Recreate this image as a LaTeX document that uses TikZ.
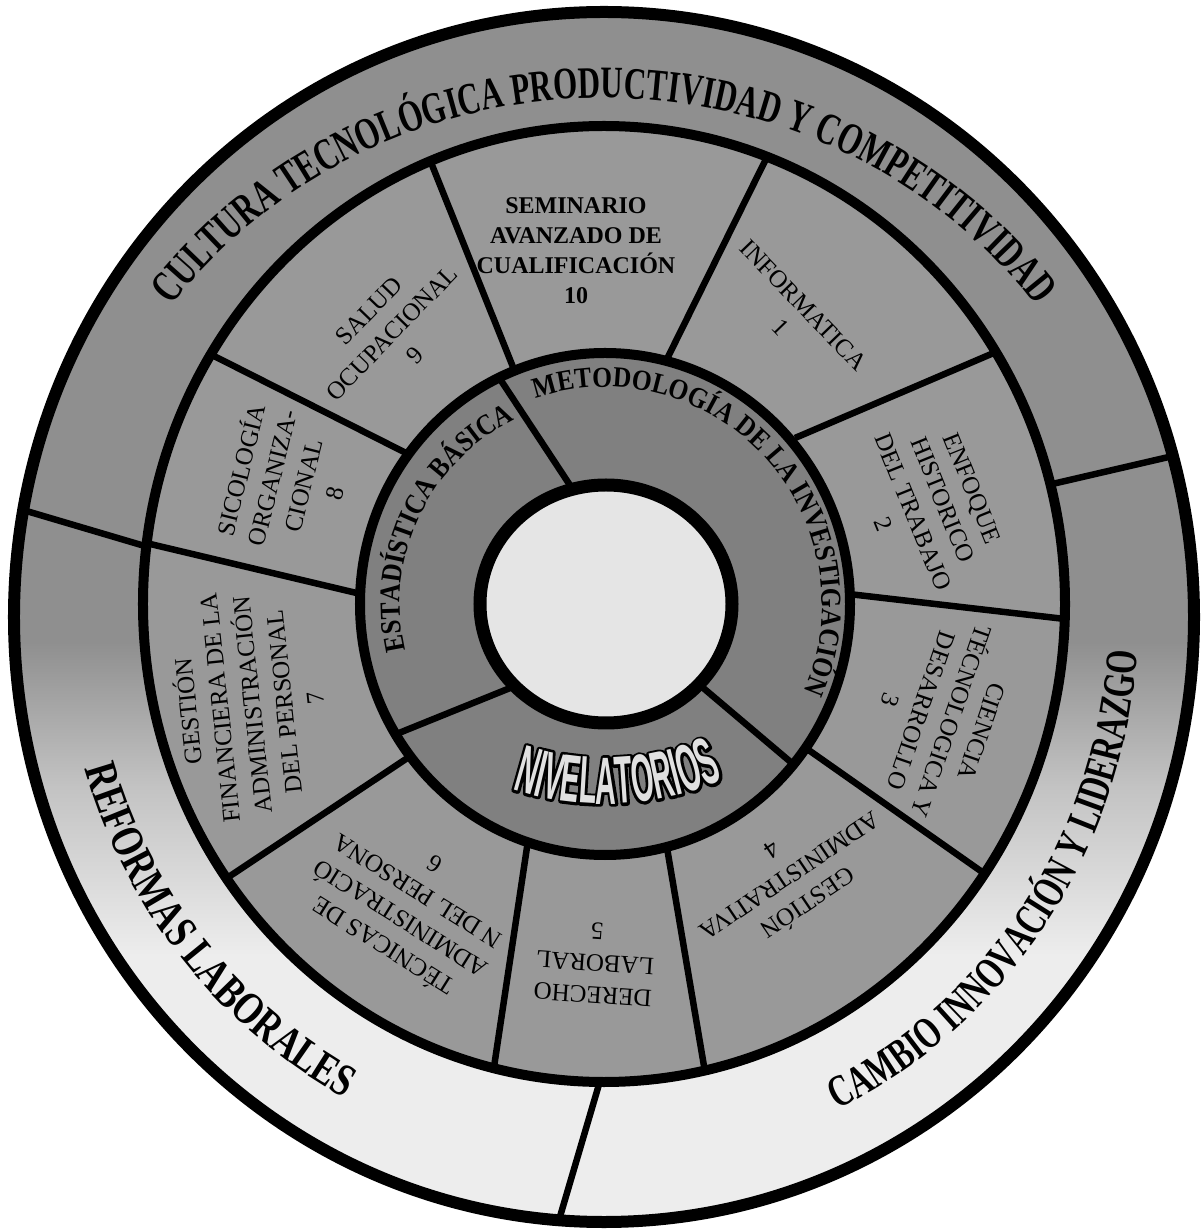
\documentclass[tikz,border=0pt]{standalone}
\usepackage{fontspec}
\setmainfont{Liberation Serif}
\newfontfamily\bandfont{Liberation Serif}[FakeStretch=0.69]
\newfontfamily\bandwidefont{Liberation Serif}[FakeStretch=0.77]
\newfontfamily\ringfont{Liberation Serif}[FakeStretch=0.88]
\newfontfamily\nivfont{Liberation Sans}[FakeStretch=0.43]
\usetikzlibrary{decorations.text}

\definecolor{bandgray}{gray}{0.56}
\definecolor{bandpale}{gray}{0.93}
\colorlet{bandmid}{bandgray!45!bandpale}
\definecolor{coursegray}{gray}{0.6}
\definecolor{coregray}{gray}{0.5}
\definecolor{hubwhite}{gray}{0.9}
\definecolor{nivwhite}{gray}{0.88}
\pgfdeclareverticalshading{bandfade}{100bp}{color(0bp)=(bandpale); color(36bp)=(bandpale); color(43bp)=(bandmid); color(49bp)=(bandgray); color(100bp)=(bandgray)}
% stroked glyphs for the outline of NIVELATORIOS
\newcommand\nivoutline{\special{pdf:literal direct 1 j 2 Tr 5.4 w 0 G}}

\begin{document}
\begin{tikzpicture}[x=1pt, y=1pt,
    course/.style={align=center, font=\fontsize{25}{32}\selectfont},
    divider/.style={line width=6.5pt},
    ringline/.style={line width=10pt},
    bandtext/.style={decorate, decoration={text along path, text align=center,
      text={|\bandfont\bfseries\fontsize{45}{45}\selectfont|#1}}},
    ringtext/.style={decorate, decoration={text along path, text align=center,
      text={|\ringfont\bfseries\fontsize{29}{29}\selectfont|#1}}}]
  % Frame of the reference
  \useasboundingbox (-605,-626) rectangle (598,604);

  % Outer band and its dividers
  \shade[shading=bandfade] (-1,-13) ellipse [x radius=590, y radius=605];
  \draw[divider] (-582,94) -- (-440,52);
  \draw[divider] (430,116) -- (568,148);
  \draw[divider] (0,-460) -- (-46,-616);

  % Course ring and its dividers
  \fill[coursegray] (-1,0) ellipse [x radius=461, y radius=478];
  \draw[divider] (-90,232) -- (-175,444);
  \draw[divider] (-195,149) -- (-393,249);
  \draw[divider] (-240,9) -- (-459,61);
  \draw[divider] (-190,-149) -- (-378,-274);
  \draw[divider] (-76,-230) -- (-111,-463);
  \draw[divider] (60,-232) -- (100,-468);
  \draw[divider] (195,-140) -- (380,-270);
  \draw[divider] (235,11) -- (460,-15);
  \draw[divider] (190,166) -- (391,252);
  \draw[divider] (57,235) -- (162,447);

  % Core ring and its dividers
  \fill[coregray] (0,0) ellipse [x radius=245, y radius=251];
  \draw[divider] (-20,96) -- (-105,225);
  \draw[divider] (-80,-78) -- (-211,-131);
  \draw[divider] (77,-66) -- (188,-160);

  % Hub
  \fill[hubwhite] (1,0) ellipse [x radius=126, y radius=119];

  % Rings
  \draw[line width=12pt] (-1,-13) ellipse [x radius=590, y radius=605];
  \draw[ringline] (-1,0) ellipse [x radius=461, y radius=478];
  \draw[ringline] (0,0) ellipse [x radius=245, y radius=251];
  \draw[line width=13pt] (1,0) ellipse [x radius=126, y radius=119];

  % Outer band texts
  \path[bandtext={CULTURA TECNOLÓGICA PRODUCTIVIDAD Y COMPETITIVIDAD}]
    ([shift={(-1,-13)}] 165:540 and 519) arc[start angle=165, end angle=15, x radius=540, y radius=519];
  \path[bandtext={CAMBIO INNOVACIÓN Y LIDERAZGO}]
    ([shift={(-1,-13)}] -80:534 and 548) arc[start angle=-80, end angle=12, x radius=534, y radius=548];
  \path[decorate, decoration={text along path, text align=center,
      text={|\bandwidefont\bfseries\fontsize{46}{46}\selectfont|REFORMAS LABORALES}}]
    ([shift={(-1,-13)}] 180:540 and 548) arc[start angle=180, end angle=257.6, x radius=540, y radius=548];

  % Core ring texts
  \path[ringtext={METODOLOGÍA DE LA INVESTIGACIÓN}]
    (150:217) arc[start angle=150, end angle=-65, radius=217];
  \path[ringtext={ESTADÍSTICA BÁSICA}]
    (220:205) arc[start angle=220, end angle=89, radius=205];

  % NIVELATORIOS: black stroked layer, light layer on top
  \path[decorate, decoration={text along path, text align=center, text color=black,
      text={|\nivoutline\nivfont\bfseries\fontsize{67}{67}\selectfont|NIVELATORIOS}}]
    (0,104) ++(242.6:304) arc[start angle=242.6, end angle=302.6, radius=304];
  \path[decorate, decoration={text along path, text align=center, text color=nivwhite,
      text={|\nivfont\bfseries\fontsize{67}{67}\selectfont|NIVELATORIOS}}]
    (0,104) ++(242.6:304) arc[start angle=242.6, end angle=302.6, radius=304];

  % Courses
  \node[course, rotate=-46] (informatica) at (187,288) {INFORMATICA\\1};
  \node[course, rotate=-68] (enfoque) at (323,98) {ENFOQUE\\HISTORICO\\DEL TRABAJO\\2};
  \node[course, rotate=-109] (ciencia) at (331,-112) {CIENCIA\\TÉCNOLOGICA Y\\DESARROLLO\\3};
  \node[course, rotate=214] (gestionadm) at (186,-274) {GESTIÓN\\ADMINISTRATIVA\\4};
  \node[course, rotate=176] (derecho) at (-10,-359) {DERECHO\\LABORAL\\5};
  \node[course, rotate=148] (tecnicas) at (-197,-303) {TÉCNICAS DE\\ADMINISTRACIÓ\\N DEL PERSONA\\6};
  \node[course, rotate=96] (gestionfin) at (-355,-101) {GESTIÓN\\FINANCIERA DE LA\\ADMINISTRACIÓN\\DEL PERSONAL\\7};
  \node[course, rotate=76] (sicologia) at (-319,123) {SICOLOGÍA\\ORGANIZA-\\CIONAL\\8};
  \node[course, rotate=46] (salud) at (-213,271) {SALUD\\OCUPACIONAL\\9};
  \node[course, font=\bfseries\fontsize{24}{30}\selectfont] (seminario) at (-29,353)
    {SEMINARIO\\AVANZADO DE\\CUALIFICACIÓN\\10};
\end{tikzpicture}
\end{document}
